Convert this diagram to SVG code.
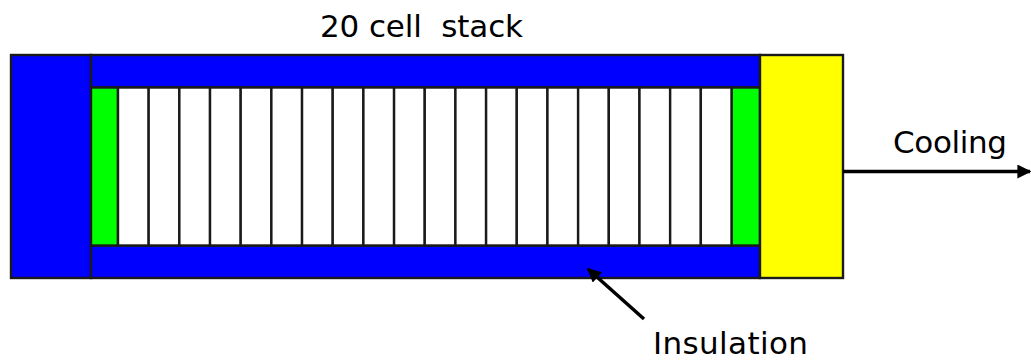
<svg xmlns="http://www.w3.org/2000/svg" width="1031" height="360" viewBox="0 0 1031 360">
  <style>
    .part { stroke: #1a1a1a; stroke-width: 2.4; }
    .ins { fill: #0000ff; }
    .plate { fill: #00ff00; }
    .cell { fill: #ffffff; }
    .sink { fill: #ffff00; }
    .label { font-family: "DejaVu Sans", Verdana, sans-serif; font-size: 31px; fill: #000; }
    .conn { stroke: #000; stroke-width: 3.5; fill: none; }
  </style>
  <defs>
    <marker id="arrow" viewBox="0 0 10 10" refX="9" refY="5" markerWidth="4.2" markerHeight="4" markerUnits="strokeWidth" orient="auto">
      <path d="M0,0 L10,5 L0,10 z" fill="#000"/>
    </marker>
  </defs>

  <rect width="1031" height="360" fill="#ffffff"/>

  <!-- insulation: end block, top and bottom bars -->
  <g id="insulation-end">
    <rect class="part ins" x="11" y="55" width="80" height="223"/>
  </g>
  <g id="insulation-top">
    <rect class="part ins" x="91" y="55" width="669" height="32.5"/>
  </g>
  <g id="insulation-bottom">
    <rect class="part ins" x="91" y="245.5" width="669" height="32.5"/>
  </g>

  <!-- end plates -->
  <g id="plate-left">
    <rect class="part plate" x="91" y="87.5" width="27" height="158"/>
  </g>
  <g id="plate-right">
    <rect class="part plate" x="731.5" y="87.5" width="28.5" height="158"/>
  </g>

  <!-- 20 cells -->
  <g id="cells">
    <rect class="part cell" x="118" y="87.5" width="30.675" height="158"/>
    <rect class="part cell" x="148.675" y="87.5" width="30.675" height="158"/>
    <rect class="part cell" x="179.35" y="87.5" width="30.675" height="158"/>
    <rect class="part cell" x="210.025" y="87.5" width="30.675" height="158"/>
    <rect class="part cell" x="240.7" y="87.5" width="30.675" height="158"/>
    <rect class="part cell" x="271.375" y="87.5" width="30.675" height="158"/>
    <rect class="part cell" x="302.05" y="87.5" width="30.675" height="158"/>
    <rect class="part cell" x="332.725" y="87.5" width="30.675" height="158"/>
    <rect class="part cell" x="363.4" y="87.5" width="30.675" height="158"/>
    <rect class="part cell" x="394.075" y="87.5" width="30.675" height="158"/>
    <rect class="part cell" x="424.75" y="87.5" width="30.675" height="158"/>
    <rect class="part cell" x="455.425" y="87.5" width="30.675" height="158"/>
    <rect class="part cell" x="486.1" y="87.5" width="30.675" height="158"/>
    <rect class="part cell" x="516.775" y="87.5" width="30.675" height="158"/>
    <rect class="part cell" x="547.45" y="87.5" width="30.675" height="158"/>
    <rect class="part cell" x="578.125" y="87.5" width="30.675" height="158"/>
    <rect class="part cell" x="608.8" y="87.5" width="30.675" height="158"/>
    <rect class="part cell" x="639.475" y="87.5" width="30.675" height="158"/>
    <rect class="part cell" x="670.15" y="87.5" width="30.675" height="158"/>
    <rect class="part cell" x="700.825" y="87.5" width="30.675" height="158"/>
  </g>

  <!-- heat sink -->
  <g id="heat-sink">
    <rect class="part sink" x="760" y="55" width="83" height="223"/>
  </g>

  <!-- labels -->
  <g id="label-stack">
    <text class="label" x="320" y="37" xml:space="preserve" textLength="203" lengthAdjust="spacing">20 cell  stack</text>
  </g>
  <g id="label-cooling">
    <text class="label" x="893" y="153" textLength="114" lengthAdjust="spacing">Cooling</text>
  </g>
  <g id="label-insulation">
    <text class="label" x="653" y="354" textLength="155" lengthAdjust="spacing">Insulation</text>
  </g>

  <!-- connectors -->
  <g id="connectors">
    <line class="conn" x1="843" y1="171.5" x2="1030" y2="171.5" marker-end="url(#arrow)"/>
    <line class="conn" x1="644" y1="319" x2="588" y2="269" marker-end="url(#arrow)"/>
  </g>
</svg>
